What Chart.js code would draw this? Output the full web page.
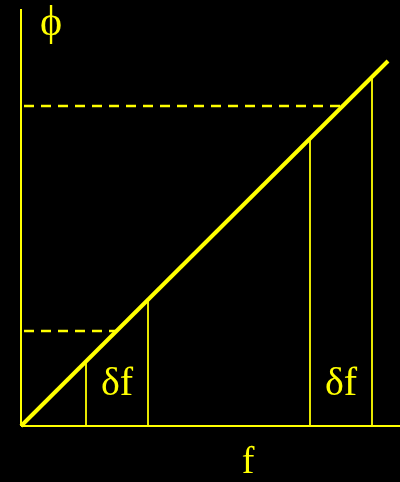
<!DOCTYPE html>
<html>
<head>
<meta charset="utf-8">
<script src="https://cdn.jsdelivr.net/npm/chart.js@4.4.1/dist/chart.umd.min.js"></script>
<style>
  html, body { margin: 0; padding: 0; background: #000; }
  #wrap { width: 400px; height: 482px; }
</style>
</head>
<body>
<div id="wrap"><canvas id="c" width="400" height="482"></canvas></div>
<script>
// Axis ranges (chart units)
const fRange = [0, 379];
const phiRange = [0, 417];
// Main line phi(f)
const lineF = [0, 367];
const linePhi = [0, 365];
// Two intervals δf along f, with heights where they meet the line
const intervalStartF = [65, 289];
const intervalEndF = [127, 351];
const intervalStartPhi = [64, 287];
const intervalEndPhi = [126, 349];
// Dashed projection levels on phi axis
const dashedPhi = [95, 320];
const dashedEndF = [95.5, 321.7];
const dashedStartF = 3;
// Text labels
const intervalLabels = ['δf', 'δf'];
const intervalLabelPhi = 42;
const yAxisLabel = 'ϕ';
const yAxisLabelPos = [30, 402];
const xAxisLabel = 'f';
const xAxisLabelPos = [227, -37];

const YEL = '#ffff00';

const datasets = [];
// axes
datasets.push({ data: [{x: fRange[0], y: phiRange[0]}, {x: fRange[0], y: phiRange[1]}], borderColor: YEL, borderWidth: 2 });
datasets.push({ data: [{x: fRange[0], y: phiRange[0]}, {x: fRange[1], y: phiRange[0]}], borderColor: YEL, borderWidth: 2 });
// main diagonal
datasets.push({ data: lineF.map((f, i) => ({x: f, y: linePhi[i]})), borderColor: YEL, borderWidth: 4, borderCapStyle: 'butt' });
// vertical interval lines
intervalStartF.forEach((f, i) => {
  datasets.push({ data: [{x: f, y: 0}, {x: f, y: intervalStartPhi[i]}], borderColor: YEL, borderWidth: 1.8 });
  datasets.push({ data: [{x: intervalEndF[i], y: 0}, {x: intervalEndF[i], y: intervalEndPhi[i]}], borderColor: YEL, borderWidth: 1.8 });
});
// dashed lines
dashedPhi.forEach((p, i) => {
  datasets.push({ data: [{x: dashedStartF, y: p}, {x: dashedEndF[i], y: p}], borderColor: YEL, borderWidth: 2.4, borderDash: [10, 7] });
});
datasets.forEach(d => { d.showLine = true; d.pointRadius = 0; d.fill = false; d.clip = false; });

const textPlugin = {
  id: 'texts',
  afterDatasetsDraw(chart) {
    const ctx = chart.ctx, xs = chart.scales.x, ys = chart.scales.y;
    ctx.save();
    ctx.fillStyle = YEL;
    ctx.textAlign = 'center';
    ctx.textBaseline = 'middle';
    ctx.font = '40px "Liberation Serif", "DejaVu Serif", serif';
    intervalLabels.forEach((t, i) => {
      const xm = (intervalStartF[i] + intervalEndF[i]) / 2;
      ctx.fillText(t, xs.getPixelForValue(xm), ys.getPixelForValue(intervalLabelPhi));
    });
    ctx.font = '42px "Liberation Serif", "DejaVu Serif", serif';
    ctx.fillText(yAxisLabel, xs.getPixelForValue(yAxisLabelPos[0]), ys.getPixelForValue(yAxisLabelPos[1]));
    ctx.font = '38px "Liberation Serif", "DejaVu Serif", serif';
    ctx.fillText(xAxisLabel, xs.getPixelForValue(xAxisLabelPos[0]), ys.getPixelForValue(xAxisLabelPos[1]));
    ctx.restore();
  }
};

new Chart(document.getElementById('c'), {
  type: 'scatter',
  data: { datasets },
  options: {
    responsive: false,
    animation: false,
    layout: { padding: { left: 21, right: 0, top: 9, bottom: 56 } },
    scales: {
      x: { type: 'linear', display: false, min: fRange[0], max: fRange[1] },
      y: { type: 'linear', display: false, min: phiRange[0], max: phiRange[1] }
    },
    plugins: { legend: { display: false }, tooltip: { enabled: false } }
  },
  plugins: [textPlugin]
});
</script>
</body>
</html>
